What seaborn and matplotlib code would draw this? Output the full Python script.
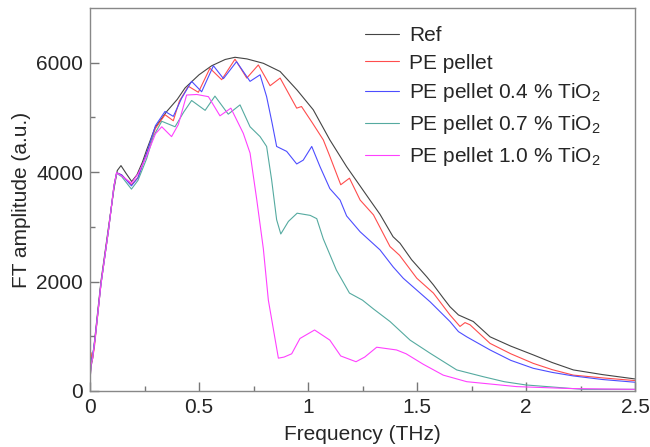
import pandas as pd
import matplotlib.pyplot as plt
import seaborn as sns

# values (frequency in THz, FT amplitude in a.u.)
ref_f = [0, 0.005, 0.012, 0.023, 0.05, 0.085, 0.11, 0.125, 0.142, 0.165, 0.191, 0.215, 0.24, 0.26,
         0.298, 0.352, 0.40, 0.436, 0.5, 0.558, 0.62, 0.665, 0.72, 0.795, 0.872, 0.95, 1.024, 1.1,
         1.177, 1.284, 1.33, 1.39, 1.422, 1.475, 1.544, 1.575, 1.62, 1.651, 1.69, 1.758, 1.835,
         1.93, 2.033, 2.12, 2.217, 2.35, 2.5]
ref_a = [200, 450, 600, 1000, 2000, 3000, 3700, 4030, 4120, 3980, 3830, 3950, 4180, 4410,
         4810, 5110, 5330, 5540, 5780, 5945, 6060, 6100, 6070, 5990, 5840, 5500, 5140, 4590,
         4100, 3490, 3230, 2820, 2700, 2400, 2090, 1940, 1700, 1540, 1390, 1270, 990,
         820, 660, 520, 385, 300, 220]

pe_f = [0, 0.005, 0.01, 0.02, 0.05, 0.085, 0.11, 0.122, 0.145, 0.19, 0.22, 0.26, 0.30, 0.344,
        0.382, 0.41, 0.451, 0.497, 0.55, 0.604, 0.665, 0.719, 0.772, 0.826, 0.872, 0.948, 0.97,
        1.02, 1.07, 1.10, 1.15, 1.19, 1.239, 1.3, 1.376, 1.42, 1.499, 1.575, 1.651, 1.697, 1.72,
        1.743, 1.835, 1.93, 2.033, 2.12, 2.217, 2.35, 2.5]
pe_a = [300, 700, 550, 800, 1950, 2950, 3750, 3990, 3950, 3770, 3900, 4350, 4800, 5050,
        4940, 5300, 5570, 5460, 5900, 5690, 6065, 5720, 5960, 5580, 5720, 5170, 5200,
        4900, 4590, 4290, 3770, 3890, 3490, 3220, 2640, 2480, 2060, 1790, 1390, 1180, 1250,
        1210, 870, 680, 505, 390, 290, 240, 190]

ti04_f = [0, 0.005, 0.012, 0.023, 0.05, 0.085, 0.11, 0.122, 0.145, 0.19, 0.22, 0.26, 0.30, 0.344,
          0.382, 0.42, 0.466, 0.512, 0.566, 0.612, 0.672, 0.734, 0.78, 0.81, 0.835, 0.856, 0.902,
          0.948, 0.978, 1.017, 1.055, 1.10, 1.147, 1.177, 1.239, 1.33, 1.39, 1.437, 1.56, 1.651,
          1.69, 1.728, 1.835, 1.93, 2.033, 2.12, 2.217, 2.35, 2.5]
ti04_a = [250, 550, 650, 950, 1950, 2950, 3750, 3990, 3950, 3750, 3900, 4350, 4850, 5110,
          5020, 5350, 5660, 5470, 5945, 5710, 6020, 5660, 5780, 5380, 4900, 4470, 4380,
          4150, 4220, 4470, 4100, 3700, 3490, 3200, 2910, 2580, 2270, 2060, 1630, 1270,
          1085, 990, 750, 560, 415, 340, 275, 210, 160]

ti07_f = [0, 0.005, 0.012, 0.023, 0.05, 0.085, 0.11, 0.122, 0.145, 0.19, 0.22, 0.26, 0.29, 0.329,
          0.39, 0.43, 0.466, 0.528, 0.573, 0.634, 0.688, 0.734, 0.78, 0.81, 0.833, 0.856, 0.875,
          0.91, 0.95, 1.01, 1.04, 1.07, 1.13, 1.19, 1.25, 1.30, 1.376, 1.468, 1.56, 1.682, 1.805,
          1.9, 2.0, 2.26, 2.5]
ti07_a = [250, 500, 620, 950, 1950, 2950, 3750, 3980, 3920, 3690, 3850, 4250, 4650, 4930,
          4830, 5100, 5310, 5130, 5390, 5060, 5230, 4830, 4650, 4470, 3860, 3130, 2870,
          3100, 3250, 3210, 3150, 2780, 2210, 1790, 1660, 1500, 1270, 930, 690, 385, 260,
          170, 110, 30, 30]

ti10_f = [0, 0.005, 0.012, 0.023, 0.05, 0.085, 0.11, 0.122, 0.145, 0.19, 0.222, 0.26, 0.30, 0.329,
          0.374, 0.405, 0.443, 0.49, 0.543, 0.596, 0.646, 0.703, 0.734, 0.765, 0.795, 0.818, 0.864,
          0.89, 0.925, 0.963, 1.03, 1.10, 1.15, 1.22, 1.26, 1.315, 1.406, 1.45, 1.528, 1.62, 1.728,
          1.957, 2.2, 2.5]
ti10_a = [200, 480, 600, 950, 1950, 2950, 3750, 3990, 3930, 3800, 3980, 4300, 4700, 4830,
          4650, 4870, 5410, 5420, 5380, 5030, 5170, 4710, 4350, 3490, 2600, 1660, 600,
          620, 680, 960, 1115, 930, 640, 535, 620, 800, 750, 680, 490, 290, 170,
          80, 45, 30]

series = [
    ('Ref', ref_f, ref_a, '#444444'),
    ('PE pellet', pe_f, pe_a, '#ff4d4d'),
    ('PE pellet 0.4 % TiO$_2$', ti04_f, ti04_a, '#4d4dff'),
    ('PE pellet 0.7 % TiO$_2$', ti07_f, ti07_a, '#55aaa0'),
    ('PE pellet 1.0 % TiO$_2$', ti10_f, ti10_a, '#ff40ff'),
]

sns.set_style('ticks')
plt.rcParams['font.family'] = ['Liberation Sans', 'DejaVu Sans']
plt.rcParams['mathtext.default'] = 'regular'

fig = plt.figure(figsize=(6.5, 4.47), dpi=100)
ax = fig.add_axes([0.1385, 0.1253, 0.8385, 0.8567])

for name, f, a, col in series:
    df = pd.DataFrame({'f': f, 'a': a})
    sns.lineplot(data=df, x='f', y='a', ax=ax, color=col, lw=0.8, label=name,
                 estimator=None, sort=False)

ax.set_xlim(0, 2.5)
ax.set_ylim(0, 7000)
ax.set_xticks([0, 0.5, 1, 1.5, 2, 2.5])
ax.set_xticklabels(['0', '0.5', '1', '1.5', '2', '2.5'])
ax.set_yticks([0, 2000, 4000, 6000])
ax.set_xticks([0.25, 0.75, 1.25, 1.75, 2.25], minor=True)
ax.set_yticks([1000, 3000, 5000], minor=True)
ax.tick_params(which='both', direction='in', color='#777777', labelsize=15, width=1,
               bottom=True, left=True, top=False, right=False)
ax.tick_params(which='major', length=6.5)
ax.tick_params(which='minor', length=3.6)
ax.tick_params(axis='x', which='major', pad=5)
ax.tick_params(axis='y', which='major', pad=5)
for s in ax.spines.values():
    s.set_color('#888888')
    s.set_linewidth(1)

ax.set_xlabel('Frequency (THz)', fontsize=15, labelpad=6)
ax.set_ylabel('FT amplitude (a.u.)', fontsize=15)

ax.legend(loc='upper left', bbox_to_anchor=(0.49, 0.975), frameon=False, fontsize=15,
          handlelength=1.6, handletextpad=0.5, labelspacing=0.42, borderaxespad=0)

fig.savefig('out.png', dpi=100)
